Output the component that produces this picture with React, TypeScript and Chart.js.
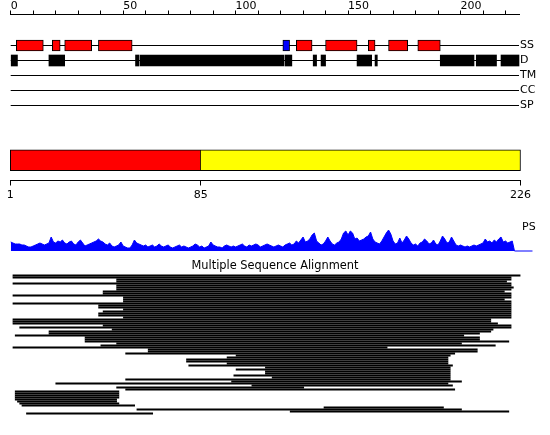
import React, { useEffect, useRef } from 'react';
import { Chart, registerables } from 'chart.js';

Chart.register(...registerables);

const FONT = "'DejaVu Sans', 'Liberation Sans', sans-serif";

// ---------- data ----------
const SEQ_LEN = 226;
const topTickStep = 10;
const topLabelEvery = 50;
const featureRows = ['SS', 'D', 'TM', 'CC', 'SP'];

const ssStart = [2.5, 18.5, 24, 39, 121, 127, 140, 159, 168, 181];
const ssEnd = [14.5, 22, 36, 54, 124, 134, 154, 162, 176.5, 191];
const ssType = ['H', 'H', 'H', 'H', 'E', 'H', 'H', 'H', 'H', 'H'];

const disStart = [0, 17, 55.5, 57.5, 122, 134.5, 138, 154, 162, 191, 207, 218];
const disEnd = [3, 24, 57, 121.5, 125, 136, 140, 160.5, 163, 206, 216, 226];

const domainStart = [1, 85];
const domainEnd = [85, 226];
const domainColors = ['#ff0000', '#ffff00'];
const domainTicks = [1, 85, 226];

const psValues = [
  9, 8,
  7, 7, 7, 6, 6, 5,
  4, 4, 5,
  6, 7, 8, 7, 6, 7, 8,
  14,
  9, 8,
  10, 9, 11, 8,
  7, 9, 10, 7,
  6, 9, 11, 8,
  5, 6, 7, 8, 9, 10,
  12, 10,
  9, 7, 6, 8, 5,
  4, 5, 6, 9, 5,
  4, 3, 3,
  6, 11, 8,
  7, 6, 5, 6, 4, 5, 6, 4, 5,
  7, 5, 4, 5, 6, 4, 3, 4, 5, 6,
  4, 5, 4, 3, 4, 5,
  7, 6, 4, 5, 3, 4, 5, 9, 6,
  5, 4, 4, 3, 5, 6, 5, 4, 5, 4,
  5, 6, 7, 5, 4, 6, 5, 6, 7, 6, 4, 5, 6, 7, 6,
  5, 4, 5, 6, 5, 4, 6, 7, 8, 6,
  7, 10, 8, 11, 14, 9,
  10, 12, 16, 18, 10,
  8, 6, 7, 10, 14,
  10, 7, 6, 8, 9,
  12, 18, 20, 16, 20,
  18, 12, 13, 10, 11,
  12, 14, 15, 19,
  12, 9, 8, 7,
  10, 14, 18, 21, 17,
  10, 7, 8, 13,
  8, 11, 15, 12,
  8, 6, 7, 5,
  8, 9, 12, 10, 7,
  8, 11, 7, 6,
  10, 15, 12, 8,
  9, 14, 10, 6,
  5, 6, 5, 4, 5, 4, 5, 6,
  5, 6, 7, 8, 12, 9,
  10, 8, 11, 9, 12,
  14, 9, 10,
  8, 9, 10,
  0,
];
const psTailEnd = 232;
const psLabelLevel = 24;

const msaTitle = 'Multiple Sequence Alignment';
const msaStart = [
  1, 1, 47, 47, 1, 47, 47, 47, 41, 41,
  1, 50, 50, 50, 1, 39, 39, 50, 41, 39,
  39, 50, 1, 1, 1, 41, 4, 45, 17, 17,
  2, 33, 33, 33, 47, 40, 1, 61, 61, 51,
  100, 96, 78, 78, 96, 79, 113, 100, 113, 113,
  99, 116, 51, 98, 20, 107, 47, 51, 2, 2,
  2, 2, 2, 3, 4, 5, 139, 56, 124, 7,
];
const msaEnd = [
  226, 222, 222, 220, 222, 222, 223, 222, 219, 222,
  222, 222, 219, 222, 222, 222, 222, 222, 222, 222,
  222, 222, 213, 213, 216, 222, 222, 214, 213, 208,
  201, 208, 208, 221, 200, 215, 167, 207, 207, 197,
  195, 194, 194, 194, 194, 196, 195, 195, 195, 195,
  195, 195, 195, 200, 194, 196, 130, 197, 48, 48,
  48, 48, 47, 47, 48, 55, 192, 200, 221, 63,
];

// ---------- helpers ----------
const baseOptions = {
  animation: false as const,
  responsive: false,
  devicePixelRatio: 1,
  events: [] as any[],
  plugins: {
    legend: { display: false },
    tooltip: { enabled: false },
  },
};

const hiddenGrid = { display: false, drawTicks: false, tickLength: 0 };

const noPad = (s: any) => {
  s.paddingTop = 0;
  s.paddingBottom = 0;
  s.paddingLeft = 0;
  s.paddingRight = 0;
};
const fixW = (w: number) => (s: any) => {
  s.width = w;
  noPad(s);
};
const fixH = (h: number) => (s: any) => {
  s.height = h;
  noPad(s);
};

export default function App() {
  const aRef = useRef<HTMLCanvasElement>(null);
  const bRef = useRef<HTMLCanvasElement>(null);
  const cRef = useRef<HTMLCanvasElement>(null);
  const dRef = useRef<HTMLCanvasElement>(null);

  useEffect(() => {
    Chart.defaults.font.family = FONT;
    Chart.defaults.color = '#000';
    const charts: Chart[] = [];

    // ---- A: ruler + feature rows ----
    charts.push(
      new Chart(aRef.current!, {
        type: 'bar',
        data: {
          datasets: [
            {
              type: 'bar',
              indexAxis: 'y',
              label: 'SS',
              data: ssStart.map((s, i) => ({ x: [s, ssEnd[i]], y: 0 })) as any,
              backgroundColor: ssType.map((t) => (t === 'E' ? '#0000ff' : '#ff0000')),
              borderColor: '#000',
              borderWidth: 1,
              borderSkipped: false,
              barThickness: 11,
              grouped: false,
              clip: false,
            } as any,
            {
              type: 'bar',
              indexAxis: 'y',
              label: 'D',
              data: disStart.map((s, i) => ({ x: [s, disEnd[i]], y: 1 })) as any,
              backgroundColor: '#000',
              borderWidth: 0,
              barThickness: 11,
              grouped: false,
              clip: false,
            } as any,
            ...featureRows.map(
              (name, i) =>
                ({
                  type: 'line',
                  label: name,
                  data: [
                    { x: 0, y: i },
                    { x: SEQ_LEN, y: i },
                  ],
                  borderColor: '#000',
                  borderWidth: 1,
                  pointRadius: 0,
                  clip: false,
                } as any)
            ),
          ],
        },
        options: {
          ...baseOptions,
          indexAxis: 'y',
          layout: { autoPadding: false, padding: { left: 10.7, right: 0, top: 0, bottom: 0.5 } },
          scales: {
            x: {
              type: 'linear',
              position: 'top',
              min: 0,
              max: SEQ_LEN,
              offset: false,
              grid: { drawOnChartArea: false, drawTicks: true, tickLength: 4, color: '#000', lineWidth: 1 },
              border: { display: true, color: '#000', width: 1 },
              ticks: {
                stepSize: topTickStep,
                includeBounds: false,
                autoSkip: false,
                maxRotation: 0,
                minRotation: 0,
                align: 'start',
                padding: -1,
                color: '#000',
                font: { family: FONT, size: 11, lineHeight: 1 },
                callback: (v: any) => (Number(v) % topLabelEvery === 0 ? String(v) : ''),
              },
              afterFit: fixH(14.5),
            },
            y: {
              type: 'linear',
              position: 'right',
              reverse: true,
              min: -31 / 15,
              max: 5,
              offset: false,
              grid: hiddenGrid,
              border: { display: false },
              afterBuildTicks: (s: any) => {
                s.ticks = featureRows.map((_, i) => ({ value: i }));
              },
              ticks: {
                autoSkip: false,
                padding: 1,
                color: '#000',
                font: { family: FONT, size: 11 },
                callback: (v: any) => featureRows[Number(v)] ?? '',
              },
              afterFit: fixW(31),
            },
          },
        } as any,
      })
    );

    // ---- B: domain bar ----
    charts.push(
      new Chart(bRef.current!, {
        type: 'bar',
        data: {
          datasets: [
            {
              type: 'bar',
              indexAxis: 'y',
              data: domainStart.map((s, i) => ({ x: [s, domainEnd[i]], y: 0 })) as any,
              backgroundColor: domainColors,
              borderColor: '#000',
              borderWidth: 1,
              borderSkipped: (ctx: any) => (ctx.dataIndex > 0 ? 'left' : false),
              barThickness: 21,
              grouped: false,
              clip: false,
            } as any,
          ],
        },
        options: {
          ...baseOptions,
          indexAxis: 'y',
          layout: { autoPadding: false, padding: { left: 10.3, right: 29.5, top: 0, bottom: 0 } },
          scales: {
            x: {
              type: 'linear',
              position: 'bottom',
              min: 1,
              max: SEQ_LEN,
              offset: false,
              afterBuildTicks: (s: any) => {
                s.ticks = domainTicks.map((v) => ({ value: v }));
              },
              grid: { drawOnChartArea: false, tickLength: 5, color: '#000', lineWidth: 1 },
              border: { display: true, color: '#000', width: 1 },
              ticks: {
                autoSkip: false,
                maxRotation: 0,
                minRotation: 0,
                padding: 3,
                color: '#000',
                font: { family: FONT, size: 11 },
                callback: (v: any) => String(v),
              },
              afterFit: fixH(29.5),
            },
            y: { type: 'linear', display: false, min: -1, max: 1, offset: false },
          },
        } as any,
      })
    );

    // ---- C: PS profile ----
    charts.push(
      new Chart(cRef.current!, {
        type: 'line',
        data: {
          datasets: [
            {
              data: psValues.map((v, i) => ({ x: i, y: v })),
              borderColor: '#0000ff',
              backgroundColor: '#0000ff',
              borderWidth: 1,
              pointRadius: 0,
              fill: 'origin',
              tension: 0,
              clip: false,
            } as any,
            {
              data: [
                { x: psValues.length - 1, y: 0 },
                { x: psTailEnd, y: 0 },
              ],
              borderColor: '#0000ff',
              borderWidth: 1,
              pointRadius: 0,
              fill: false,
              clip: false,
            } as any,
          ],
        },
        options: {
          ...baseOptions,
          layout: { autoPadding: false, padding: { left: 10.7, right: 0, top: 1, bottom: 4 } },
          scales: {
            x: { type: 'linear', display: false, min: 0, max: SEQ_LEN, offset: false },
            y: {
              type: 'linear',
              position: 'right',
              min: 0,
              max: 35,
              offset: false,
              grid: hiddenGrid,
              border: { display: false },
              afterBuildTicks: (s: any) => {
                s.ticks = [{ value: psLabelLevel }];
              },
              ticks: {
                autoSkip: false,
                padding: 3,
                color: '#000',
                font: { family: FONT, size: 11 },
                callback: () => 'PS',
              },
              afterFit: fixW(31),
            },
          },
        } as any,
      })
    );

    // ---- D: multiple sequence alignment ----
    charts.push(
      new Chart(dRef.current!, {
        type: 'bar',
        data: {
          datasets: [
            {
              type: 'bar',
              indexAxis: 'y',
              data: msaStart.map((s, i) => ({ x: [s, msaEnd[i]], y: i + 1 })) as any,
              backgroundColor: '#000',
              borderWidth: 0,
              barThickness: 1.3,
              grouped: false,
              clip: false,
            } as any,
          ],
        },
        options: {
          ...baseOptions,
          indexAxis: 'y',
          layout: { autoPadding: false, padding: { left: 0, right: 0, top: 0, bottom: 19.5 } },
          plugins: {
            ...baseOptions.plugins,
            title: {
              display: true,
              text: msaTitle,
              color: '#000',
              font: { family: FONT, size: 11.4, weight: 'normal' },
              padding: { top: 4.4, bottom: 0.42 },
            },
          },
          scales: {
            x: { type: 'linear', display: false, min: 0, max: SEQ_LEN, offset: false },
            y: {
              type: 'linear',
              position: 'left',
              reverse: true,
              min: 0,
              max: msaStart.length + 1,
              offset: false,
              ticks: { display: false },
              grid: hiddenGrid,
              border: { display: false },
              afterFit: fixW(10.7),
            },
            yR: {
              type: 'linear',
              position: 'right',
              offset: false,
              ticks: { display: false },
              grid: hiddenGrid,
              border: { display: false },
              afterFit: fixW(29.9),
            },
          },
        } as any,
      })
    );

    return () => {
      charts.forEach((c) => c.destroy());
    };
  }, []);

  return (
    <div style={{ position: 'absolute', left: 0, top: 0, width: 550, height: 435, background: '#fff' }}>
      <canvas ref={aRef} width={550} height={121} style={{ position: 'absolute', left: 0, top: 0 }} />
      <canvas ref={bRef} width={550} height={70} style={{ position: 'absolute', left: 0, top: 140 }} />
      <canvas ref={cRef} width={550} height={40} style={{ position: 'absolute', left: 0, top: 215 }} />
      <canvas ref={dRef} width={550} height={180} style={{ position: 'absolute', left: 0, top: 255 }} />
    </div>
  );
}
